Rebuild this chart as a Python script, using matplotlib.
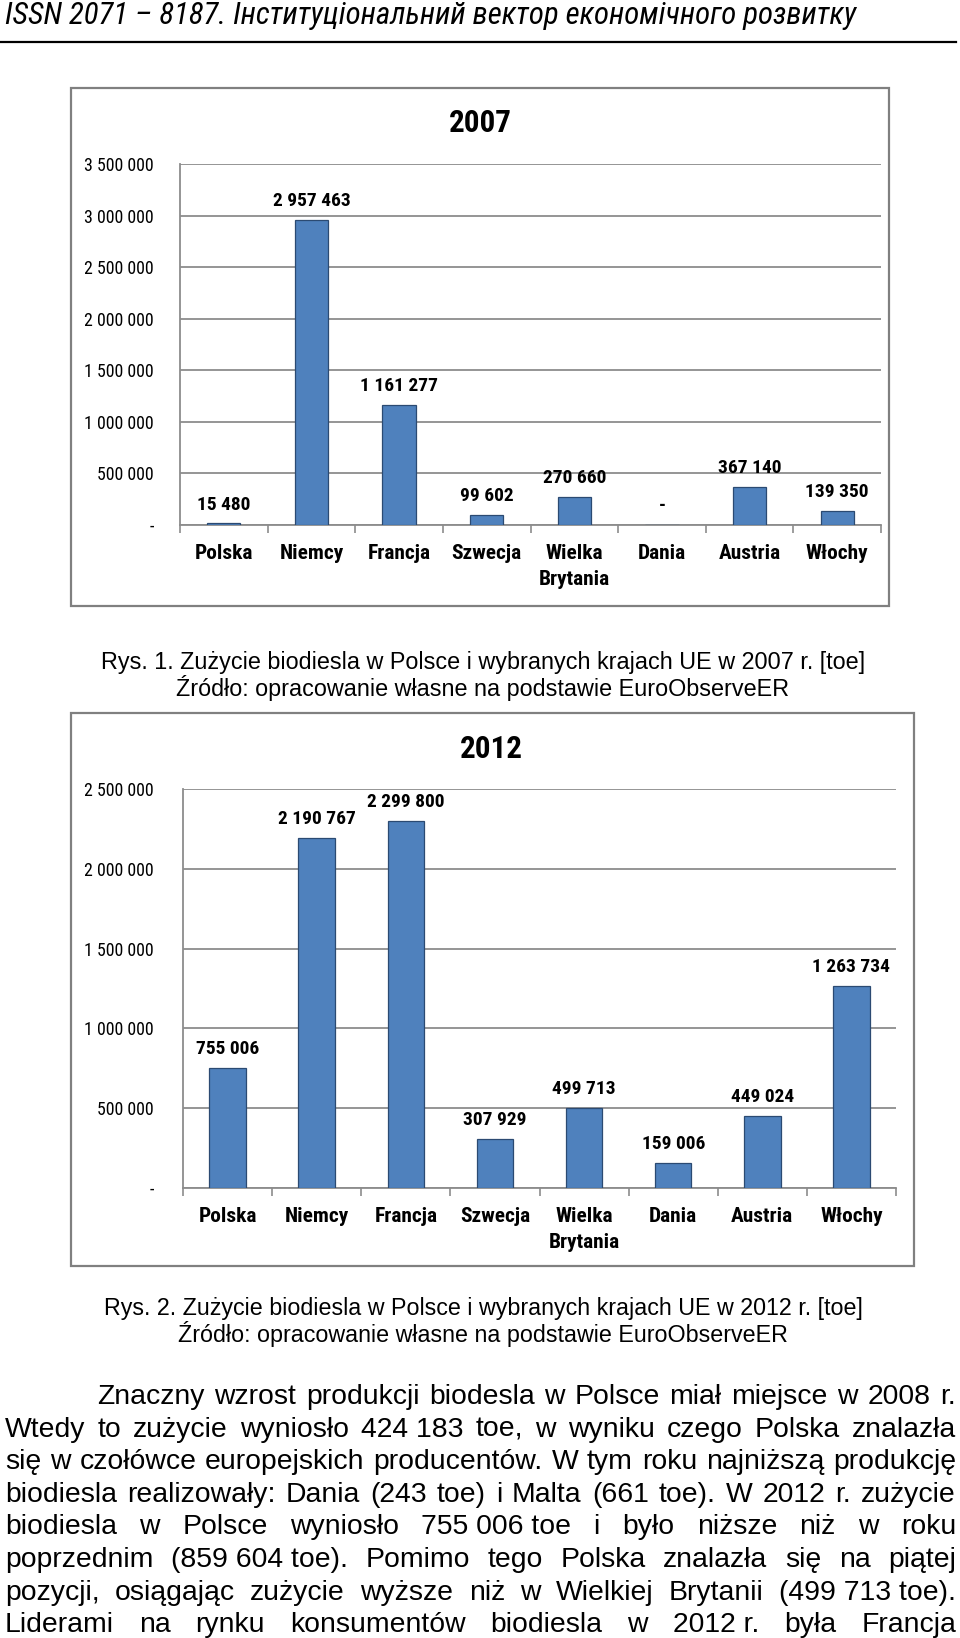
import matplotlib
matplotlib.use("Agg")
import matplotlib.pyplot as plt
from matplotlib import font_manager
from matplotlib.patches import Rectangle
from matplotlib.lines import Line2D
from matplotlib.ticker import FixedLocator, FuncFormatter

# ---------------- data ----------------
countries = ['Polska', 'Niemcy', 'Francja', 'Szwecja', 'Wielka\nBrytania',
             'Dania', 'Austria', 'Włochy']
values_2007 = [15480, 2957463, 1161277, 99602, 270660, 0, 367140, 139350]
values_2012 = [755006, 2190767, 2299800, 307929, 499713, 159006, 449024, 1263734]
yticks_2007 = [0, 500000, 1000000, 1500000, 2000000, 2500000, 3000000, 3500000]
yticks_2012 = [0, 500000, 1000000, 1500000, 2000000, 2500000]

header = "ISSN 2071 – 8187. Інституціональний вектор економічного розвитку"
caption1 = ["Rys. 1. Zużycie biodiesla w Polsce i wybranych krajach UE w 2007 r. [toe]",
            "Źródło: opracowanie własne na podstawie EuroObserveER"]
caption2 = ["Rys. 2. Zużycie biodiesla w Polsce i wybranych krajach UE w 2012 r. [toe]",
            "Źródło: opracowanie własne na podstawie EuroObserveER"]
NB = "\u00a0"
paragraph = [
    "Znaczny wzrost produkcji biodesla w Polsce miał miejsce w 2008 r.",
    f"Wtedy to zużycie wyniosło 424{NB}183 toe, w wyniku czego Polska znalazła",
    "się w czołówce europejskich producentów. W tym roku najniższą produkcję",
    "biodiesla realizowały: Dania (243 toe) i Malta (661 toe). W 2012 r. zużycie",
    f"biodiesla w Polsce wyniosło 755{NB}006{NB}toe i było niższe niż w roku",
    f"poprzednim (859{NB}604{NB}toe). Pomimo tego Polska znalazła się na piątej",
    f"pozycji, osiągając zużycie wyższe niż w Wielkiej Brytanii (499{NB}713{NB}toe).",
    f"Liderami na rynku konsumentów biodiesla w 2012{NB}r. była Francja",
]

# ---------------- fonts ----------------
avail = {f.name for f in font_manager.fontManager.ttflist}


def pick(prefs):
    for p in prefs:
        if p in avail:
            return p
    return 'DejaVu Sans'


NARROW = pick(['Liberation Sans Narrow', 'Roboto Condensed', 'Open Sans Condensed',
               'Roboto', 'Liberation Sans'])
CHART = pick(['Liberation Sans Narrow', 'Roboto Condensed', 'Carlito', 'Roboto', 'Lato'])
BODY = pick(['Liberation Sans', 'Arimo'])

W, H = 960, 1638
fig = plt.figure(figsize=(W / 100, H / 100), dpi=100)
fig.patch.set_facecolor('white')
renderer = fig.canvas.get_renderer()


def fx(x):
    return x / W


def fy(y):
    return 1 - y / H


def text_width(t):
    return t.get_window_extent(renderer).width


tmp = fig.text(0, 0, '', fontsize=10)


def measure(s, size, family, weight='normal', style='normal'):
    tmp.set_text(s)
    tmp.set_fontsize(size)
    tmp.set_family(family)
    tmp.set_fontweight(weight)
    tmp.set_fontstyle(style)
    return text_width(tmp)


def size_for(s, target_w, family, weight='normal', style='normal'):
    return 10 * target_w / measure(s, 10, family, weight, style)


def fit_text(x, y, s, target_w, ha='left', family=BODY, weight='normal', style='normal'):
    fs = size_for(s, target_w, family, weight, style)
    return fig.text(fx(x), fy(y), s, fontsize=fs, ha=ha, va='center',
                    family=family, fontweight=weight, fontstyle=style)


# header
fit_text(5, 15, header, 852, family=[NARROW, 'DejaVu Sans'], style='italic')
fig.add_artist(Line2D([fx(0), fx(956)], [fy(42), fy(42)], color='black', lw=1.6,
                      transform=fig.transFigure))

BAR = '#4F81BD'
EDGE = '#2b4a72'
GRID = '#8c8c8c'

LABEL_FS = size_for('2 957 463', 78, CHART, 'bold')
CAT_FS = size_for('Niemcy', 64, CHART, 'bold')
TICK_FS = size_for('3 500 000', 69, CHART, 'normal')
TITLE_FS = size_for('2007', 63, CHART, 'bold')


def fmt_num(v):
    if v == 0:
        return '-'
    return f"{int(v):,}".replace(',', ' ')


def make_chart(frame, plot, values, yticks, title, title_xy, width, ypad):
    fx0, fy0, fx1, fy1 = frame
    fig.add_artist(Rectangle((fx(fx0), fy(fy1)), (fx1 - fx0) / W, (fy1 - fy0) / H,
                             transform=fig.transFigure, fill=False,
                             ec='#808080', lw=1.6))
    px0, py0, px1, py1 = plot
    ax = fig.add_axes([fx(px0), fy(py1), (px1 - px0) / W, (py1 - py0) / H])
    n = len(countries)
    xs = [i + 0.5 for i in range(n)]
    ax.bar(xs, values, width=width, color=BAR, edgecolor=EDGE, linewidth=0.9, zorder=3)
    ax.set_xlim(0, n)
    ax.set_ylim(yticks[0], yticks[-1])
    ax.yaxis.set_major_locator(FixedLocator(yticks))
    ax.yaxis.set_major_formatter(FuncFormatter(lambda v, p: fmt_num(v)))
    ax.set_xticks(xs)
    ax.set_xticklabels(countries, fontfamily=CHART, fontweight='bold', fontsize=CAT_FS,
                       linespacing=1.45)
    ax.set_xticks(range(n + 1), minor=True)
    ax.tick_params(axis='x', which='major', length=0, pad=14)
    ax.tick_params(axis='x', which='minor', length=6, color=GRID, width=1.2)
    ax.tick_params(axis='y', length=0, pad=ypad, labelsize=TICK_FS)
    for lab in ax.get_yticklabels():
        lab.set_fontfamily(CHART)
    ax.grid(axis='y', color=GRID, lw=1.3, zorder=0)
    ax.set_axisbelow(True)
    for s in ['top', 'right']:
        ax.spines[s].set_visible(False)
    for s in ['left', 'bottom']:
        ax.spines[s].set_color(GRID)
        ax.spines[s].set_linewidth(1.3)
    ax.patch.set_alpha(0)
    for x, v in zip(xs, values):
        ax.annotate(fmt_num(v), (x, v), xytext=(0, 10), textcoords='offset points',
                    ha='center', va='baseline', fontfamily=CHART,
                    fontweight='bold', fontsize=LABEL_FS)
    fig.text(fx(title_xy[0]), fy(title_xy[1]), title, ha='center', va='center',
             fontfamily=CHART, fontweight='bold', fontsize=TITLE_FS)
    return ax


make_chart((71, 88, 889, 606), (180, 164, 881, 525), values_2007, yticks_2007,
           '2007', (480, 123), 0.38, 19)
make_chart((71, 713, 914, 1266), (183, 789, 896, 1188), values_2012, yticks_2012,
           '2012', (491, 749), 0.41, 21)

# captions
for lines, ys in [(caption1, (663, 688)), (caption2, (1309, 1334))]:
    t0 = fit_text(483, ys[0], lines[0], 763, ha='center', family=BODY)
    fs = t0.get_fontsize()
    fig.text(fx(483), fy(ys[1]), lines[1], ha='center', va='center', family=BODY,
             fontsize=fs)

# justified paragraph
left, right = 5, 956
indent = 97
line_y0, line_dy = 1397, 32.6

ratios = []
for i, ln in enumerate(paragraph):
    avail_w = right - left - (indent - left if i == 0 else 0)
    ratios.append(avail_w / measure(ln, 10, BODY))
size = 10 * min(ratios) * 0.995

for i, ln in enumerate(paragraph):
    words = ln.split(' ')
    x0 = indent if i == 0 else left
    widths = [measure(w, size, BODY) for w in words]
    gap = (right - x0 - sum(widths)) / (len(words) - 1)
    x = x0
    for w, wd in zip(words, widths):
        fig.text(fx(x), fy(line_y0 + i * line_dy), w, ha='left', va='center',
                 family=BODY, fontsize=size)
        x += wd + gap
tmp.set_text('')

fig.savefig('out.png', dpi=100, facecolor='white')
